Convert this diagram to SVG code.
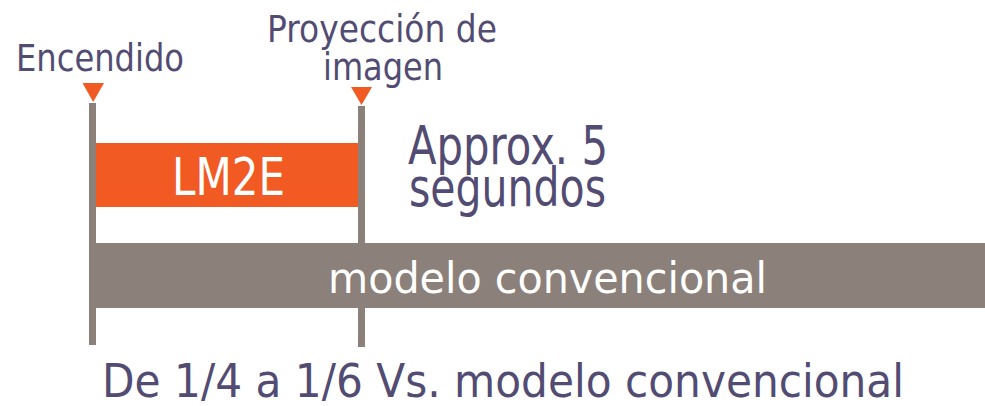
<svg xmlns="http://www.w3.org/2000/svg" width="985" height="406" viewBox="0 0 985 406">
<style>
text{font-family:"DejaVu Sans","Liberation Sans",sans-serif}
.lbl{fill:#524C73}
.wht{fill:#FFFFFF}
.tick{fill:#F15A22}
.line{fill:#8C807B}
</style>
<rect width="985" height="406" fill="#FFFFFF"/>
<g id="connectors">
<rect class="line" x="89" y="103" width="7" height="242"/>
<rect class="line" x="358" y="106" width="7" height="241"/>
<polygon class="tick" points="82.5,83 104,83 93.2,102"/>
<polygon class="tick" points="351,87 372,87 361.5,105"/>
</g>
<g id="conventional">
<rect class="line" x="96" y="243" width="889" height="65"/>
<text class="wht" x="328" y="293" font-size="42" textLength="439" lengthAdjust="spacingAndGlyphs">modelo convencional</text>
</g>
<g id="lm2e">
<rect class="tick" x="96" y="143" width="262" height="64"/>
<text class="wht" x="172" y="195" font-size="51" textLength="113" lengthAdjust="spacingAndGlyphs">LM2E</text>
</g>
<g id="encendido">
<text class="lbl" x="16" y="71" font-size="37" textLength="168" lengthAdjust="spacingAndGlyphs">Encendido</text>
</g>
<g id="proyeccion">
<text class="lbl" x="267" y="42" font-size="37" textLength="230" lengthAdjust="spacingAndGlyphs">Proyección de</text>
<text class="lbl" x="323" y="80" font-size="37" textLength="120" lengthAdjust="spacingAndGlyphs">imagen</text>
</g>
<g id="approx">
<text class="lbl" x="408" y="164" font-size="53" textLength="200" lengthAdjust="spacingAndGlyphs">Approx. 5</text>
<text class="lbl" x="409" y="206" font-size="53" textLength="197" lengthAdjust="spacingAndGlyphs">segundos</text>
</g>
<g id="comparison">
<text class="lbl" x="102" y="397" font-size="47" textLength="802" lengthAdjust="spacingAndGlyphs">De 1/4 a 1/6 Vs. modelo convencional</text>
</g>
</svg>
